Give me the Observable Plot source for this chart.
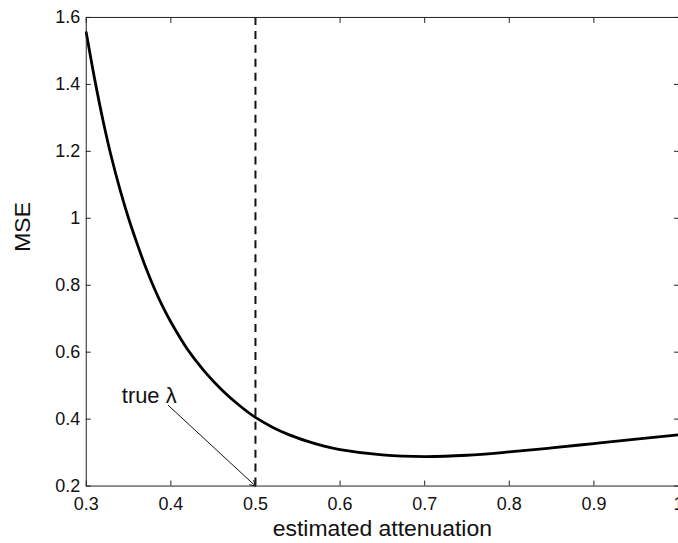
<!DOCTYPE html>
<html><head><meta charset="utf-8">
<script src="https://cdn.jsdelivr.net/npm/d3@7"></script>
<script src="https://cdn.jsdelivr.net/npm/@observablehq/plot@0.6"></script>
<style>html,body{margin:0;padding:0;overflow:hidden;background:#fff;}</style>
</head><body><div id="chart"></div>
<script>
const attenuation = [0.30,0.31,0.32,0.33,0.34,0.35,0.36,0.37,0.38,0.39,0.40,0.42,0.44,0.46,0.48,0.50,0.52,0.54,0.56,0.58,0.60,0.65,0.70,0.75,0.80,0.85,0.90,0.95,1.00];
const mse = [1.555,1.415,1.29,1.18,1.085,1.0,0.925,0.855,0.793,0.738,0.690,0.607,0.542,0.488,0.443,0.405,0.376,0.353,0.335,0.320,0.309,0.293,0.288,0.292,0.302,0.314,0.327,0.340,0.353];
const xTicks = [0.3,0.4,0.5,0.6,0.7,0.8,0.9,1.0];
const yTicks = [0.2,0.4,0.6,0.8,1.0,1.2,1.4,1.6];
const xLabel = ["estimated attenuation"];
const yLabel = ["MSE"];
const trueLambda = [0.5];
const annotationLabel = ["true λ"];
const annotationX = [0.342];
const annotationY = [0.469];
const arrowFrom = [[0.397, 0.441]];
const arrowTo = [[0.5, 0.2]];

const data = attenuation.map((x, i) => ({x, y: mse[i]}));
const fmt = d => d === 1 ? "1" : d.toFixed(1);
const font = "'Liberation Sans', Arial, Helvetica, sans-serif";

const chart = Plot.plot({
  width: 680, height: 543,
  marginLeft: 86, marginRight: 0, marginTop: 17, marginBottom: 56,
  style: {fontFamily: font, fontSize: "18px", color: "#111", background: "#fff"},
  x: {domain: [0.3, 1.0], ticks: xTicks},
  y: {domain: [0.2, 1.6], ticks: yTicks},
  marks: [
    Plot.ruleX(trueLambda, {stroke: "#111", strokeWidth: 2, strokeDasharray: "8,6"}),
    Plot.line(data, {x: "x", y: "y", stroke: "#000", strokeWidth: 2.8, curve: "catmull-rom"}),
    Plot.arrow(arrowFrom.map((p, i) => ({x1: p[0], y1: p[1], x2: arrowTo[i][0], y2: arrowTo[i][1]})),
      {x1: "x1", y1: "y1", x2: "x2", y2: "y2", stroke: "#111", strokeWidth: 1, headLength: 9, insetEnd: 0}),
    Plot.text(annotationLabel, {x: annotationX, y: annotationY, text: d => d, textAnchor: "start", lineAnchor: "middle", fontSize: 22, fill: "#111"}),
    Plot.frame({stroke: "#222", strokeWidth: 1}),
    Plot.axisX(xTicks, {tickSize: -5, text: null, stroke: "#222", label: null}),
    Plot.axisX(xTicks, {anchor: "top", tickSize: -5, text: null, stroke: "#222", label: null}),
    Plot.axisY(yTicks, {tickSize: -5, text: null, stroke: "#222", label: null}),
    Plot.axisY(yTicks, {anchor: "right", tickSize: -5, text: null, stroke: "#222", label: null}),
    Plot.axisX(xTicks, {tickSize: 0, tickPadding: 11, tickFormat: fmt, fontSize: 18, label: null}),
    Plot.axisY(yTicks, {tickSize: 0, tickPadding: 6, tickFormat: fmt, fontSize: 18, label: null}),
    Plot.text(xLabel, {frameAnchor: "bottom", text: d => d, dy: 43, lineAnchor: "middle", fontSize: 23, fill: "#111"}),
    Plot.text(yLabel, {frameAnchor: "left", text: d => d, dx: -64, rotate: -90, lineAnchor: "middle", fontSize: 23, fill: "#111"})
  ]
});
document.getElementById("chart").appendChild(chart);
</script>
</body></html>
